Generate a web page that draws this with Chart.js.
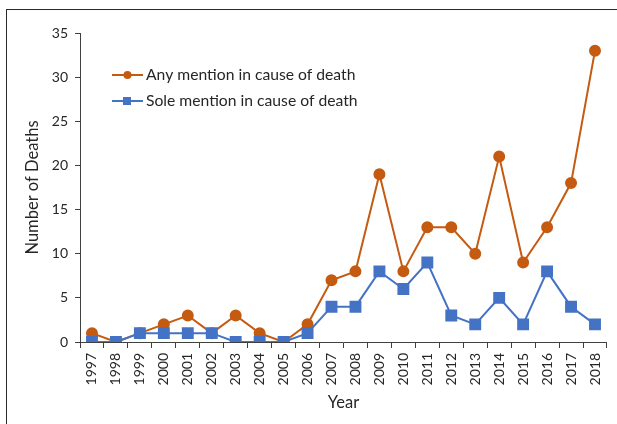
<!DOCTYPE html>
<html>
<head>
<meta charset="utf-8">
<script src="https://cdn.jsdelivr.net/npm/chart.js@4"></script>
<style>
  body { margin: 0; background: #fff; }
  #moldura { position: absolute; left: 6px; top: 9px; width: 700px; height: 500px; border-top: 1.5px solid #2a2a2a; border-left: 1.5px solid #2a2a2a; }
  #grafico { position: absolute; left: 0; top: 0; }
</style>
</head>
<body>
<div id="moldura"></div>
<canvas id="grafico" width="617" height="424"></canvas>
<script>
const anos = ["1997","1998","1999","2000","2001","2002","2003","2004","2005","2006","2007",
  "2008","2009","2010","2011","2012","2013","2014","2015","2016","2017","2018"]
const qualquerMencao = [1, 0, 1, 2, 3, 1, 3, 1, 0, 2, 7, 8, 19, 8, 13, 13, 10, 21, 9, 13, 18, 33]
const unicaMencao = [0, 0, 1, 1, 1, 1, 0, 0, 0, 1, 4, 4, 8, 6, 9, 3, 2, 5, 2, 8, 4, 2]
const ticksY = [0, 5, 10, 15, 20, 25, 30, 35]

const laranja = '#C55A11'
const azul = '#4472C4'
const corTexto = '#262626'
const fonte = 'Lato'

// legenda desenhada a mao: linha com marcador no meio
const legendaPlugin = {
  id: 'legenda',
  afterDraw(chart) {
    const ctx = chart.ctx
    chart.data.datasets.forEach((ds, i) => {
      const y = 75 + i * 26
      ctx.save()
      ctx.strokeStyle = ds.borderColor
      ctx.lineWidth = 2
      ctx.beginPath()
      ctx.moveTo(112, y)
      ctx.lineTo(143, y)
      ctx.stroke()
      ctx.fillStyle = ds.backgroundColor
      if (ds.pointStyle == 'rect') {
        ctx.fillRect(123, y - 4, 8, 8)
      } else {
        ctx.beginPath()
        ctx.arc(127.5, y, 4, 0, Math.PI * 2)
        ctx.fill()
      }
      ctx.fillStyle = corTexto
      ctx.font = '15.7px ' + fonte
      ctx.textBaseline = 'middle'
      ctx.fillText(ds.label, 146, y)
      ctx.restore()
    })
  }
}

new Chart(document.getElementById("grafico"), {
  type: 'line',
  data: {
    labels: anos,
    datasets: [{
      label: 'Any mention in cause of death',
      data: qualquerMencao,
      borderColor: laranja,
      backgroundColor: laranja,
      pointStyle: 'circle',
      pointRadius: 5,
      borderWidth: 2,
      order: 1
    }, {
      label: 'Sole mention in cause of death',
      data: unicaMencao,
      borderColor: azul,
      backgroundColor: azul,
      pointStyle: 'rect',
      pointRadius: 7,
      borderWidth: 2,
      order: 0
    }]
  },
  options: {
    responsive: false,
    animation: false,
    layout: { padding: { top: 33, right: 7, left: 0, bottom: 0 } },
    plugins: { legend: { display: false }, tooltip: { enabled: false } },
    scales: {
      x: {
        offset: true,
        grid: { offset: true, drawOnChartArea: false, drawTicks: true, tickLength: 6, color: '#404040' },
        border: { color: '#404040', width: 1 },
        ticks: { minRotation: 90, maxRotation: 90, padding: 5, color: corTexto, font: { family: fonte, size: 14 } },
        title: { display: true, text: 'Year', color: corTexto, font: { family: fonte, size: 16.5 }, padding: { bottom: 11 } },
        afterFit(scale) { scale.height = 82 }
      },
      y: {
        min: 0,
        max: 35,
        afterBuildTicks(scale) { scale.ticks = ticksY.map(v => ({ value: v })) },
        grid: { drawOnChartArea: false, drawTicks: true, tickLength: 5, color: '#404040' },
        border: { color: '#404040', width: 1 },
        ticks: { padding: 7, color: corTexto, font: { family: fonte, size: 14 } },
        title: { display: true, text: 'Number of Deaths', color: corTexto, font: { family: fonte, size: 16.5 }, padding: { top: 23 } },
        afterFit(scale) { scale.width = 80 }
      }
    }
  },
  plugins: [legendaPlugin]
});
</script>
</body>
</html>
